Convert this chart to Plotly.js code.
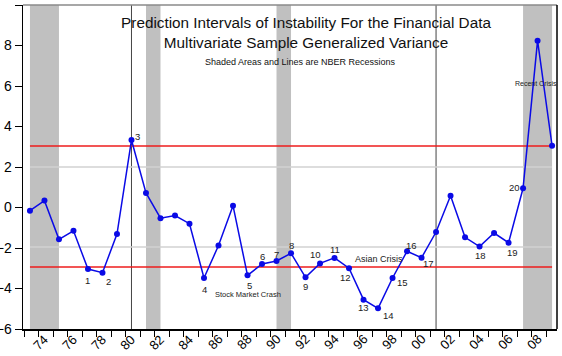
<!DOCTYPE html>
<html>
<head>
<meta charset="utf-8">
<script src="https://cdn.plot.ly/plotly-3.0.1.min.js"></script>
<style>
  html, body { margin: 0; padding: 0; background: #fff; }
  #chart { width: 562px; height: 356px; }
</style>
</head>
<body>
<div id="chart"></div>
<script>
// Annual observations of the instability statistic
const years = [1973, 1974, 1975, 1976, 1977, 1978, 1979, 1980, 1981, 1982,
               1983, 1984, 1985, 1986, 1987, 1988, 1989, 1990, 1991, 1992,
               1993, 1994, 1995, 1996, 1997, 1998, 1999, 2000, 2001, 2002,
               2003, 2004, 2005, 2006, 2007, 2008, 2009];
const variance = [-0.16, 0.34, -1.57, -1.15, -3.04, -3.22, -1.31, 3.33, 0.72, -0.53,
                  -0.40, -0.80, -3.48, -1.88, 0.09, -3.35, -2.79, -2.64, -2.26, -3.45,
                  -2.76, -2.49, -3.00, -4.55, -4.98, -3.48, -2.16, -2.48, -1.21, 0.58,
                  -1.47, -1.93, -1.26, -1.74, 0.95, 8.24, 3.05];

// Prediction interval bounds
const outerUpper = 3.04;
const outerLower = -2.94;
const innerUpper = 2.0;
const innerLower = -1.95;

// NBER recessions: multi-year spans are shaded, single-year ones drawn as lines
const recessionSpans = [[1973, 1975], [1981, 1982], [1990, 1991], [2007, 2009]];
const recessionLines = [1980, 2001];

// Numbered observations
const flagYears  = [1977, 1978, 1980, 1985, 1988, 1989, 1990, 1991, 1992, 1993,
                    1994, 1995, 1996, 1997, 1998, 1999, 2000, 2004, 2006, 2007];
const flagLabels = ['1', '2', '3', '4', '5', '6', '7', '8', '9', '10',
                    '11', '12', '13', '14', '15', '16', '17', '18', '19', '20'];
// pixel offsets of each number from its point (right, down)
const flagOffsets = [[0, 11], [6, 9], [6, -4], [0, 12], [2, 10], [0, -8], [0, -6], [0, -8], [0, 9], [-5, -9],
                     [0, -8], [-4, 9], [0, 8], [10, 7], [10, 5], [4, -6], [7, 6], [1, 9], [4, 10], [-9, -1]];

// Event notes
const eventText = ['Stock Market Crash', 'Asian Crisis', 'Recent Crisis'];
const eventX = [1988.06, 1997.09, 2007.92];
const eventY = [-4.32, -2.54, 6.13];
const eventSize = [7.5, 9, 7];

// x-axis labels every two years, tick marks once a year
const labelYears = [1974, 1976, 1978, 1980, 1982, 1984, 1986, 1988, 1990, 1992,
                    1994, 1996, 1998, 2000, 2002, 2004, 2006, 2008];
const labelText = labelYears.map(y => String(y).slice(2));

const firstYear = years[0], lastYear = years[years.length - 1];
const markYears = years.map(y => y - 0.41);

const shapes = [];
// inner interval lines (light gray, beneath the shading)
[innerUpper, innerLower].forEach(v => shapes.push({
  type: 'line', xref: 'x', yref: 'y', x0: firstYear, x1: lastYear, y0: v, y1: v,
  line: { color: '#d2d2d2', width: 1.5 }, layer: 'below'
}));
recessionSpans.forEach(s => shapes.push({
  type: 'rect', xref: 'x', yref: 'paper', x0: s[0], x1: s[1], y0: 0, y1: 1,
  fillcolor: '#c0c0c0', line: { width: 0 }, layer: 'below'
}));
recessionLines.forEach(y => shapes.push({
  type: 'line', xref: 'x', yref: 'paper', x0: y, x1: y, y0: 0, y1: 1,
  line: { color: '#444444', width: 1 }, layer: 'below'
}));
// outer interval lines (red)
[outerUpper, outerLower].forEach(v => shapes.push({
  type: 'line', xref: 'x', yref: 'y', x0: firstYear, x1: lastYear, y0: v, y1: v,
  line: { color: '#ee1c1c', width: 1.5 }, layer: 'below'
}));
// frame: gray top edge, black right edge
shapes.push({ type: 'line', xref: 'paper', yref: 'paper', x0: 0, x1: 1, y0: 1, y1: 1,
  line: { color: '#8a8a8a', width: 1.5 } });
shapes.push({ type: 'line', xref: 'paper', yref: 'paper', x0: 1, x1: 1, y0: 0, y1: 1,
  line: { color: '#000000', width: 1.5 } });

const annotations = [];
flagYears.forEach((y, i) => {
  const idx = years.indexOf(y);
  annotations.push({
    x: y, y: variance[idx], xref: 'x', yref: 'y', text: flagLabels[i], showarrow: false,
    xshift: flagOffsets[i][0], yshift: -flagOffsets[i][1],
    font: { family: 'Liberation Sans, Arial, sans-serif', size: 9.5, color: '#222' }
  });
});
eventText.forEach((t, i) => annotations.push({
  x: eventX[i], y: eventY[i], xref: 'x', yref: 'y', text: t, showarrow: false,
  font: { family: 'Liberation Sans, Arial, sans-serif', size: eventSize[i], color: '#222' }
}));
annotations.push({
  xref: 'paper', yref: 'paper', x: 0.52, y: 0.825, xanchor: 'center', yanchor: 'middle',
  text: 'Shaded Areas and Lines are NBER Recessions', showarrow: false,
  font: { family: 'Liberation Sans, Arial, sans-serif', size: 9, color: '#111' }
});
// slanted year labels under the x axis
labelYears.forEach((y, i) => annotations.push({
  x: y, y: 0, xref: 'x', yref: 'paper', text: labelText[i], showarrow: false,
  xanchor: 'center', yanchor: 'middle', textangle: -45,
  xshift: -4, yshift: -13,
  font: { family: 'Liberation Sans, Arial, sans-serif', size: 13, color: '#000' }
}));

const trace = {
  x: years, y: variance, type: 'scatter', mode: 'lines+markers',
  line: { color: '#0a0ae6', width: 1.5 },
  marker: { color: '#0a0ae6', size: 6 },
  hoverinfo: 'x+y'
};

const layout = {
  width: 562, height: 356,
  margin: { l: 23, r: 5, t: 5, b: 27, pad: 0 },
  paper_bgcolor: '#ffffff', plot_bgcolor: '#ffffff',
  showlegend: false,
  font: { family: 'Liberation Sans, Arial, sans-serif', color: '#000' },
  title: {
    text: 'Prediction Intervals of Instability For the Financial Data<br>Multivariate Sample Generalized Variance',
    font: { size: 15.3, color: '#111' },
    xref: 'container', yref: 'container', x: 0.5445, y: 0.922,
    xanchor: 'center', yanchor: 'top'
  },
  xaxis: {
    range: [1972.52, 2009.34], showgrid: false, zeroline: false,
    showline: true, linecolor: '#000', linewidth: 1.5,
    tickmode: 'array', tickvals: markYears, showticklabels: false,
    ticks: 'outside', ticklen: 6, tickcolor: '#000', tickwidth: 1,
    automargin: false
  },
  yaxis: {
    range: [-6, 10], showgrid: false, zeroline: false,
    showline: true, linecolor: '#000', linewidth: 1.5,
    tickmode: 'array', tickvals: [-6, -4, -2, 0, 2, 4, 6, 8, 10],
    ticks: 'outside', ticklen: 7, tickcolor: '#000', tickwidth: 1,
    tickfont: { size: 14 }, automargin: false
  },
  shapes: shapes,
  annotations: annotations
};

Plotly.newPlot('chart', [trace], layout, { staticPlot: true, displayModeBar: false });
</script>
</body>
</html>
